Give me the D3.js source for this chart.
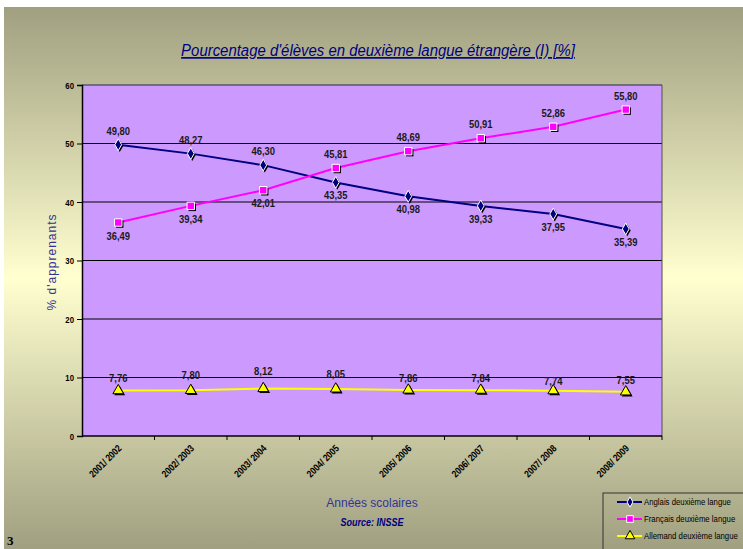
<!DOCTYPE html>
<html>
<head>
<meta charset="utf-8">
<script src="https://cdn.jsdelivr.net/npm/d3@7"></script>
<style>
  body { margin: 0; background: #fff; }
  svg { display: block; }
</style>
</head>
<body>
<div id="chart"></div>
<script>
// data
const years = ["2001/ 2002", "2002/ 2003", "2003/ 2004", "2004/ 2005",
               "2005/ 2006", "2006/ 2007", "2007/ 2008", "2008/ 2009"];
const anglais = [49.80, 48.27, 46.30, 43.35, 40.98, 39.33, 37.95, 35.39];
const francais = [36.49, 39.34, 42.01, 45.81, 48.69, 50.91, 52.86, 55.80];
const allemand = [7.76, 7.80, 8.12, 8.05, 7.86, 7.84, 7.74, 7.55];
const yTicks = [0, 10, 20, 30, 40, 50, 60];
const seriesNames = ["Anglais deuxième langue", "Français deuxième langue", "Allemand deuxième langue"];

const WIDTH = 743, HEIGHT = 549;
const sans = "'Liberation Sans', Arial, sans-serif";
const squeeze = 0.82; // fake Arial Narrow by squeezing Liberation Sans

const svg = d3.select("#chart").append("svg")
  .attr("width", WIDTH)
  .attr("height", HEIGHT);

// background gradient (olive -> pale yellow -> olive)
const defs = svg.append("defs");
const grad = defs.append("linearGradient")
  .attr("id", "bg").attr("x1", 0).attr("y1", 0).attr("x2", 0).attr("y2", 1);
grad.append("stop").attr("offset", "0%").attr("stop-color", "#a09f80");
grad.append("stop").attr("offset", "50%").attr("stop-color", "#ffffd0");
grad.append("stop").attr("offset", "100%").attr("stop-color", "#a09f80");

svg.append("rect")
  .attr("x", 4).attr("y", 7)
  .attr("width", WIDTH - 4).attr("height", HEIGHT - 7)
  .attr("fill", "url(#bg)");

// scales
const x = d3.scaleBand().domain(years).range([82, 662]);
const y = d3.scaleLinear().domain([0, 60]).range([436, 85]);
const cx = d => x(d) + x.bandwidth() / 2;

// plot area
svg.append("rect")
  .attr("x", x.range()[0]).attr("y", y(60))
  .attr("width", x.range()[1] - x.range()[0])
  .attr("height", y(0) - y(60))
  .attr("fill", "#cc99ff");

// gridlines
svg.append("g").selectAll("line")
  .data(yTicks.filter(t => t > 0 && t < 60))
  .enter().append("line")
  .attr("x1", x.range()[0]).attr("x2", x.range()[1])
  .attr("y1", d => y(d)).attr("y2", d => y(d))
  .attr("stroke", "#000").attr("stroke-width", 1);

// border top/right grey
svg.append("line")
  .attr("x1", x.range()[0]).attr("x2", x.range()[1])
  .attr("y1", y(60)).attr("y2", y(60))
  .attr("stroke", "#707070").attr("stroke-width", 2);
svg.append("line")
  .attr("x1", x.range()[1]).attr("x2", x.range()[1])
  .attr("y1", y(60)).attr("y2", y(0))
  .attr("stroke", "#505050").attr("stroke-width", 1);

// y axis
const yAxis = svg.append("g")
  .attr("transform", `translate(${x.range()[0]},0)`)
  .call(d3.axisLeft(y).tickValues(yTicks).tickSize(5).tickFormat(""));
yAxis.select(".domain").attr("stroke", "#000").attr("stroke-width", 1.5);
yAxis.selectAll(".tick line").attr("stroke", "#000");
svg.append("g").selectAll("text")
  .data(yTicks)
  .enter().append("text")
  .attr("transform", d => `translate(${x.range()[0] - 8},${y(d) + 3.5}) scale(${squeeze},1)`)
  .attr("text-anchor", "end")
  .attr("font-family", sans).attr("font-size", 9.5).attr("font-weight", "bold").attr("fill", "#000")
  .text(d => d);

// x axis (ticks between categories)
const xAxis = svg.append("g").attr("transform", `translate(0,${y(0)})`);
xAxis.append("line")
  .attr("x1", x.range()[0]).attr("x2", x.range()[1])
  .attr("stroke", "#000").attr("stroke-width", 1.5);
xAxis.selectAll("line.tk")
  .data(years)
  .enter().append("line").attr("class", "tk")
  .attr("x1", d => x(d) + x.bandwidth()).attr("x2", d => x(d) + x.bandwidth())
  .attr("y1", 0).attr("y2", 4)
  .attr("stroke", "#000");
xAxis.selectAll("text")
  .data(years)
  .enter().append("text")
  .attr("transform", d => `translate(${cx(d) + 4},13) rotate(-45) scale(${squeeze},1)`)
  .attr("text-anchor", "end")
  .attr("font-family", sans).attr("font-size", 10).attr("font-weight", "bold")
  .attr("fill", "#000")
  .text(d => d);

// lines + markers
const line = d3.line().x((d, i) => cx(years[i])).y(d => y(d));

function drawSeries(values, color, shape, labelOffsets) {
  const g = svg.append("g");
  g.append("path")
    .datum(values)
    .attr("d", line)
    .attr("fill", "none")
    .attr("stroke", color)
    .attr("stroke-width", 2);

  const sym = d3.symbol().type(shape.type).size(shape.size);
  // shadow
  g.selectAll("path.sh")
    .data(values)
    .enter().append("path").attr("class", "sh")
    .attr("d", sym)
    .attr("transform", (d, i) => `translate(${cx(years[i]) + 1.5},${y(d) + 1.5})`)
    .attr("fill", "#000");
  g.selectAll("path.mk")
    .data(values)
    .enter().append("path").attr("class", "mk")
    .attr("d", sym)
    .attr("transform", (d, i) => `translate(${cx(years[i])},${y(d)})`)
    .attr("fill", shape.fill)
    .attr("stroke", shape.stroke)
    .attr("stroke-width", 1);

  g.selectAll("text")
    .data(values)
    .enter().append("text")
    .attr("transform", (d, i) => `translate(${cx(years[i])},${y(d) + labelOffsets[i]}) scale(${squeeze},1)`)
    .attr("text-anchor", "middle")
    .attr("font-family", sans).attr("font-size", 11.5).attr("font-weight", "bold")
    .attr("fill", "#1a1a1a")
    .text(d => d3.format(".2f")(d).replace(".", ","));
}

const up = -10, down = 17;
drawSeries(anglais, "#000080",
  { type: d3.symbolDiamond, size: 40, fill: "#000080", stroke: "#fff" },
  [up, up, up, down, down, down, down, down]);
drawSeries(francais, "#ff00ff",
  { type: d3.symbolSquare, size: 55, fill: "#ff00ff", stroke: "#fff" },
  [down, down, down, up, up, up, up, up]);
drawSeries(allemand, "#ffff00",
  { type: d3.symbolTriangle, size: 50, fill: "#ffff00", stroke: "#000" },
  [-9, -11, -13, -11, -8, -8, -6, -8]);

// title
svg.append("text")
  .attr("transform", "translate(378,56) scale(0.9,1)")
  .attr("text-anchor", "middle")
  .attr("font-family", sans)
  .attr("font-size", 16.6).attr("font-style", "italic")
  .attr("text-decoration", "underline")
  .attr("fill", "#000080")
  .text("Pourcentage d'élèves en deuxième langue étrangère (I) [%]");

// y label
svg.append("text")
  .attr("transform", "translate(56,262) rotate(-90)")
  .attr("text-anchor", "middle")
  .attr("font-family", sans)
  .attr("font-size", 12).attr("letter-spacing", 1)
  .attr("fill", "#333399")
  .text("% d'apprenants");

// x label
svg.append("text")
  .attr("x", 372).attr("y", 507)
  .attr("text-anchor", "middle")
  .attr("font-family", sans)
  .attr("font-size", 12)
  .attr("fill", "#333399")
  .text("Années scolaires");

// source
svg.append("text")
  .attr("transform", `translate(372,526) scale(${squeeze},1)`)
  .attr("text-anchor", "middle")
  .attr("font-family", sans)
  .attr("font-size", 11).attr("font-weight", "bold").attr("font-style", "italic")
  .attr("fill", "#000080")
  .text("Source: INSSE");

// page number
svg.append("text")
  .attr("x", 7).attr("y", 545)
  .attr("font-family", "'Liberation Serif', 'Times New Roman', serif")
  .attr("font-size", 13).attr("font-weight", "bold")
  .attr("fill", "#000")
  .text("3");

// legend
const legend = svg.append("g").attr("transform", "translate(603,493)");
legend.append("rect")
  .attr("width", 145).attr("height", 60)
  .attr("fill", "none").attr("stroke", "#333").attr("stroke-width", 1);
const legendColors = ["#000080", "#ff00ff", "#ffff00"];
const legendShapes = [
  { type: d3.symbolDiamond, size: 30, fill: "#000080", stroke: "#fff" },
  { type: d3.symbolSquare, size: 45, fill: "#ff00ff", stroke: "#fff" },
  { type: d3.symbolTriangle, size: 40, fill: "#ffff00", stroke: "#000" }
];
const li = legend.selectAll("g.item")
  .data(seriesNames)
  .enter().append("g").attr("class", "item")
  .attr("transform", (d, i) => `translate(0,${9 + i * 17})`);
li.append("line")
  .attr("x1", 14).attr("x2", 39)
  .attr("stroke", (d, i) => legendColors[i]).attr("stroke-width", 2);
li.append("path")
  .attr("d", (d, i) => d3.symbol().type(legendShapes[i].type).size(legendShapes[i].size)())
  .attr("transform", "translate(27,0)")
  .attr("fill", (d, i) => legendShapes[i].fill)
  .attr("stroke", (d, i) => legendShapes[i].stroke);
li.append("text")
  .attr("transform", `translate(41,3) scale(${squeeze},1)`)
  .attr("font-family", sans).attr("font-size", 9.5)
  .attr("fill", "#000")
  .text(d => d);
</script>
</body>
</html>
